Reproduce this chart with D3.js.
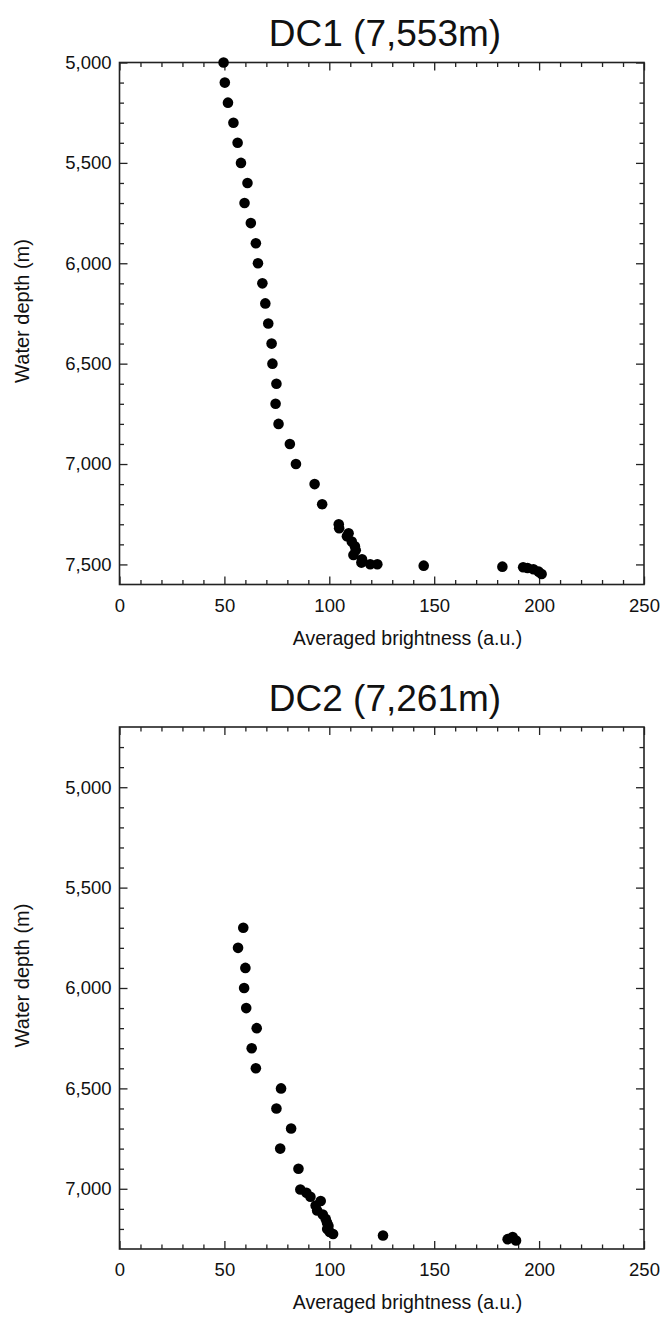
<!DOCTYPE html>
<html><head><meta charset="utf-8">
<script src="https://cdn.jsdelivr.net/npm/d3@7"></script>
<style>
body{margin:0;background:#fff}
svg{display:block}
text{font-family:"Liberation Sans",Arial,Helvetica,sans-serif;fill:#111}
</style>
</head><body>
<svg id="c" width="664" height="1318"></svg>
<script>
// ---- data ----
const dc1Depth = [5000,5100,5200,5300,5400,5500,5600,5700,5800,5900,6000,6100,6200,6300,6400,6500,6600,6700,6800,6900,7000,7100,7200,7300,7320,7345,7360,7386,7410,7430,7453,7474,7491,7499,7499,7506,7511,7514,7518,7524,7536,7548];
const dc1Brightness = [49.6,50.2,51.7,54.3,56.3,57.9,61.0,59.6,62.6,65.0,66.0,68.1,69.5,70.9,72.5,72.9,74.8,74.4,75.8,81.2,84.1,93.0,96.6,104.5,104.7,109.2,108.4,110.7,112.2,112.6,111.5,115.6,115.3,119.5,122.9,145.0,182.5,192.4,194.5,197.3,199.8,201.2];
const dc2Depth = [5700,5800,5900,6000,6100,6200,6300,6400,6500,6600,6700,6800,6900,7004,7020,7040,7061,7083,7108,7128,7150,7168,7185,7200,7215,7225,7233,7251,7240,7258];
const dc2Brightness = [59.0,56.5,60.0,59.4,60.4,65.4,63.0,65.0,77.0,74.8,81.8,76.6,85.3,86.2,89.1,91.0,95.9,93.5,94.2,96.9,98.3,98.9,99.6,99.0,100.2,101.8,125.6,185.0,187.4,189.0];
const xMajorTicks = [0,50,100,150,200,250];
const dc1DepthTicks = [5000,5500,6000,6500,7000,7500];
const dc2DepthTicks = [5000,5500,6000,6500,7000];
const dc1DepthDomain = [5000,7600];
const dc2DepthDomain = [4700,7300];
const xDomain = [0,250];
const titles = ["DC1 (7,553m)","DC2 (7,261m)"];
const xLabel = "Averaged brightness (a.u.)";
const yLabel = "Water depth (m)";

// ---- layout ----
const svg = d3.select("#c");
const left = 119.5, right = 644, plotH = 522;
const panels = [
  {title:titles[0], depth:dc1Depth, bright:dc1Brightness, domain:dc1DepthDomain, ticks:dc1DepthTicks, top:62.5},
  {title:titles[1], depth:dc2Depth, bright:dc2Brightness, domain:dc2DepthDomain, ticks:dc2DepthTicks, top:727}
];
const x = d3.scaleLinear().domain(xDomain).range([left,right]);
const xMinor = d3.range(xDomain[0], xDomain[1]+1, 10).filter(v => v % 50 !== 0);

panels.forEach(p => {
  const bottom = p.top + plotH;
  const y = d3.scaleLinear().domain(p.domain).range([p.top,bottom]);
  const yMinor = d3.range(Math.ceil(p.domain[0]/100)*100, p.domain[1]+1, 100).filter(v => v % 500 !== 0 && v > p.domain[0] && v < p.domain[1]);
  const g = svg.append("g");

  const styleAxis = sel => {
    sel.select(".domain").remove();
    sel.selectAll(".tick line").attr("stroke","#222").attr("stroke-width",1.3);
  };

  // bottom
  g.append("g").attr("transform",`translate(0,${bottom})`)
    .call(d3.axisBottom(x).tickValues(xMajorTicks).tickSize(-8).tickPadding(14).tickFormat(d3.format("d")))
    .call(styleAxis)
    .call(s => s.selectAll("text").attr("font-size",18.5).attr("fill","#111"));
  g.append("g").attr("transform",`translate(0,${bottom})`)
    .call(d3.axisBottom(x).tickValues(xMinor).tickSize(-4.5).tickFormat(""))
    .call(styleAxis);
  // top
  g.append("g").attr("transform",`translate(0,${p.top})`)
    .call(d3.axisTop(x).tickValues(xMajorTicks).tickSize(-8).tickFormat(""))
    .call(styleAxis);
  g.append("g").attr("transform",`translate(0,${p.top})`)
    .call(d3.axisTop(x).tickValues(xMinor).tickSize(-4.5).tickFormat(""))
    .call(styleAxis);
  // left
  g.append("g").attr("transform",`translate(${left},0)`)
    .call(d3.axisLeft(y).tickValues(p.ticks).tickSize(-8).tickPadding(8).tickFormat(d3.format(",")))
    .call(styleAxis)
    .call(s => s.selectAll("text").attr("font-size",18.5).attr("fill","#111"));
  g.append("g").attr("transform",`translate(${left},0)`)
    .call(d3.axisLeft(y).tickValues(yMinor).tickSize(-4.5).tickFormat(""))
    .call(styleAxis);
  // right
  g.append("g").attr("transform",`translate(${right},0)`)
    .call(d3.axisRight(y).tickValues(p.ticks).tickSize(-8).tickFormat(""))
    .call(styleAxis);
  g.append("g").attr("transform",`translate(${right},0)`)
    .call(d3.axisRight(y).tickValues(yMinor).tickSize(-4.5).tickFormat(""))
    .call(styleAxis);

  // frame
  g.append("rect").attr("x",left).attr("y",p.top).attr("width",right-left).attr("height",plotH)
    .attr("fill","none").attr("stroke","#222").attr("stroke-width",1.6);

  // points
  g.append("g").selectAll("circle").data(p.depth.map((d,i)=>({d, b:p.bright[i]})))
    .join("circle")
    .attr("cx", d => x(d.b)).attr("cy", d => y(d.d)).attr("r",5.3).attr("fill","#000");

  // titles & labels
  g.append("text").attr("x",385).attr("y",p.top-16.5).attr("text-anchor","middle")
    .attr("font-size",37).text(p.title);
  g.append("text").attr("x",407.5).attr("y",bottom+60).attr("text-anchor","middle")
    .attr("font-size",19.5).text(xLabel);
  g.append("text").attr("transform",`translate(28.5,${p.top+248.5}) rotate(-90)`)
    .attr("text-anchor","middle").attr("font-size",20).text(yLabel);
});
</script>
</body></html>
